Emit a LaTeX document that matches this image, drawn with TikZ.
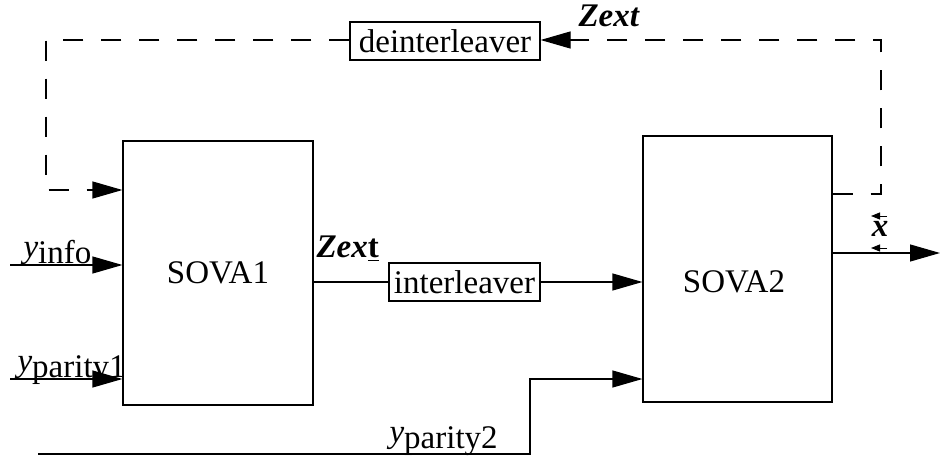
\documentclass[tikz,border=0pt]{standalone}
\usepackage{fontspec}
\setmainfont{Liberation Serif}
\usetikzlibrary{arrows.meta,calc}

\begin{document}
\begin{tikzpicture}[x=1pt,y=-1pt,font=\fontsize{33}{38}\selectfont]
  	\tikzstyle{block} = [rectangle,draw,line width=1.2pt,inner sep=0pt]
  	\tikzstyle{wire} = [line width=1.2pt]
  	\tikzstyle{feedback} = [wire,dash pattern=on 20pt off 18pt]
  	\tikzstyle{tiny} = [line width=0.9pt,-{Triangle[length=9pt,width=7pt]}]
  	\tikzset{>={Triangle[length=30pt,width=17pt]}}

    \useasboundingbox (0,0) rectangle (940,457);

    \node [block, minimum width=190pt, minimum height=264pt] (sova1) at (218,273) {SOVA1};
    \node [block, minimum width=189pt, minimum height=266pt] (sova2) at (737.5,269) {};
    \node at (734,282) (sovatwo) {SOVA2};
    \node [block, minimum width=190pt, minimum height=38pt] (deint) at (445,41) {deinterleaver};
    \node [block, minimum width=151pt, minimum height=38pt] (inter) at (464.5,282) {interleaver};

    % feedback path
    \coordinate (fbA) at (881,194);
    \coordinate (fbB) at (881,40);
    \coordinate (fbC) at (46,40);
    \coordinate (fbD) at (46,190);
    \draw [feedback,->] (sova2.east |- fbA) -- (fbA) -- (fbB) -- (deint.east |- fbB);
    \draw [feedback,->] (deint.west |- fbC) -- (fbC) -- (fbD) -- (sova1.west |- fbD);
    \node [anchor=base west] (zextb) at (575,27) {\textbf{\textit{Zext}}};

    % inputs
    \coordinate (info) at (10,265);
    \coordinate (par1) at (10,379);
    \draw [wire,->] (info) -- (sova1.west |- info);
    \draw [wire,->] (par1) -- (sova1.west |- par1);
    \node [anchor=base west] (yinfo) at (20,258) {\textit{y}\raisebox{-6pt}{info}};
    \node [anchor=base west] (ypar1) at (14,371) {\textit{y}\raisebox{-6pt}{parity1}};

    \coordinate (par2) at (38,454);
    \coordinate (par2up) at (530,454);
    \coordinate (par2in) at (530,379);
    \draw [wire,->] (par2) -- (par2up) -- (par2in) -- (sova2.west |- par2in);
    \node [anchor=base west] (ypar2) at (386,442) {\textit{y}\raisebox{-6pt}{parity2}};

    % forward path
    \draw [wire] (sova1.east |- inter.west) -- (inter.west);
    \draw [wire,->] (inter.east) -- (sova2.west |- inter.east);
    \node [anchor=base west] (zextf) at (313,258) {\textbf{\textit{Zex}}\underline{\textbf{t}}};

    % decision output
    \coordinate (out) at (940,253);
    \draw [wire,->] (sova2.east |- out) -- (out);
    \node [anchor=base] (xhat) at (880,237) {\textbf{\textit{x}}};
    \coordinate (aupR) at (887,216);
    \coordinate (aupL) at (871,216);
    \coordinate (adnR) at (887,248);
    \coordinate (adnL) at (871,248);
    \draw [tiny] (aupR) -- (aupL);
    \draw [tiny] (adnR) -- (adnL);

  \end{tikzpicture}
\end{document}
